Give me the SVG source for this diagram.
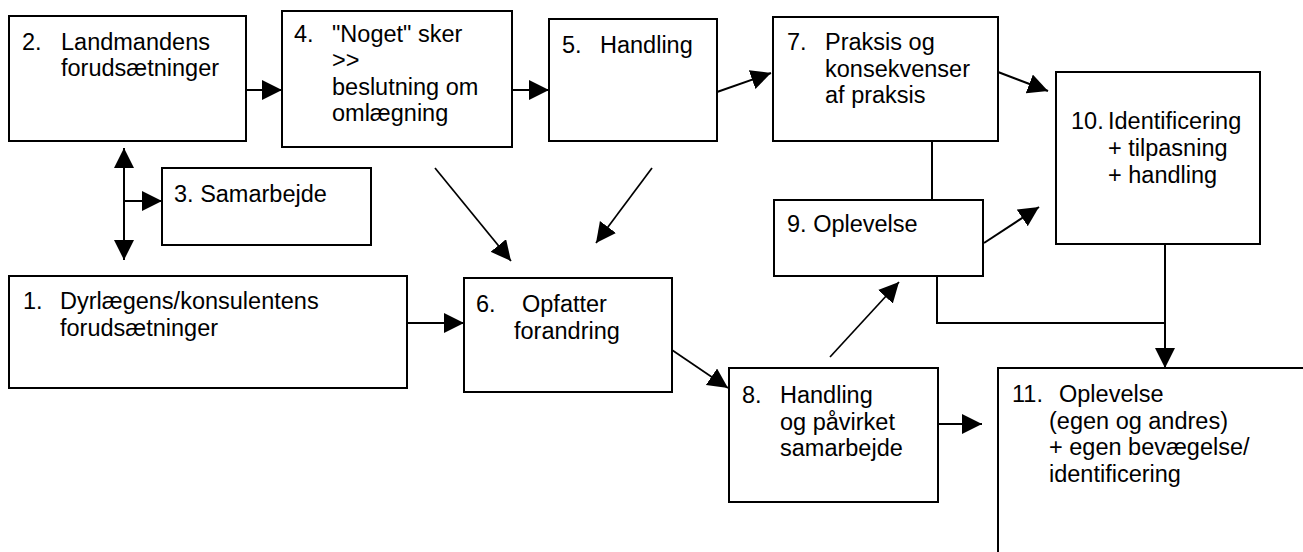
<svg xmlns="http://www.w3.org/2000/svg" width="1303" height="552" viewBox="0 0 1303 552">
<style>
.box{fill:#fff;stroke:#000;stroke-width:2}
.t{font-family:"Liberation Sans",Arial,sans-serif;font-size:23.5px;fill:#000}
.c{fill:none;stroke:#000;stroke-width:2}
.d{fill:none;stroke:#000;stroke-width:1.7}
</style>
<defs>
<marker id="ah" markerUnits="userSpaceOnUse" markerWidth="21" markerHeight="21" refX="20" refY="10" orient="auto">
<path d="M0,0 L20,10 L0,20 Z" fill="#000"/>
</marker>
<marker id="ahs" markerUnits="userSpaceOnUse" markerWidth="21" markerHeight="21" refX="20" refY="10" orient="auto-start-reverse">
<path d="M0,0 L20,10 L0,20 Z" fill="#000"/>
</marker>
</defs>
<rect width="1303" height="552" fill="#fff"/>
<g id="connectors">
<line class="c" x1="246" y1="90" x2="282" y2="90" marker-end="url(#ah)"/>
<line class="c" x1="512" y1="90" x2="549" y2="90" marker-end="url(#ah)"/>
<line class="c" x1="717" y1="92" x2="771" y2="73" marker-end="url(#ah)"/>
<line class="c" x1="998" y1="72" x2="1048" y2="91" marker-end="url(#ah)"/>
<line class="c" x1="124" y1="148" x2="124" y2="260" marker-start="url(#ahs)" marker-end="url(#ah)"/>
<line class="c" x1="124" y1="201" x2="162" y2="201" marker-end="url(#ah)"/>
<line class="c" x1="407" y1="323" x2="464" y2="323" marker-end="url(#ah)"/>
<line class="d" x1="435" y1="168" x2="511" y2="261" marker-end="url(#ah)"/>
<line class="d" x1="652" y1="168" x2="596" y2="243" marker-end="url(#ah)"/>
<line class="c" x1="932" y1="141" x2="932" y2="200"/>
<line class="c" x1="984" y1="243" x2="1039" y2="207" marker-end="url(#ah)"/>
<polyline class="c" points="937,276 937,323 1165,323"/>
<line class="c" x1="1165" y1="244" x2="1165" y2="368" marker-end="url(#ah)"/>
<line class="d" x1="672" y1="350" x2="728" y2="388" marker-end="url(#ah)"/>
<line class="d" x1="830" y1="357" x2="899" y2="282" marker-end="url(#ah)"/>
<line class="c" x1="938" y1="424" x2="982" y2="424" marker-end="url(#ah)"/>
</g>
<g id="n2">
<rect class="box" x="9" y="16" width="237" height="125"/>
<text class="t"><tspan x="22" y="50">2.</tspan><tspan x="61" y="50">Landmandens</tspan><tspan x="61" y="76">forudsætninger</tspan></text>
</g>
<g id="n4">
<rect class="box" x="282" y="11" width="230" height="136"/>
<text class="t"><tspan x="294" y="42">4.</tspan><tspan x="332" y="42">"Noget" sker</tspan><tspan x="332" y="68">&gt;&gt;</tspan><tspan x="332" y="95">beslutning om</tspan><tspan x="332" y="121">omlægning</tspan></text>
</g>
<g id="n5">
<rect class="box" x="549" y="19" width="168" height="122"/>
<text class="t"><tspan x="562" y="53">5.</tspan><tspan x="600" y="53">Handling</tspan></text>
</g>
<g id="n7">
<rect class="box" x="773" y="17" width="225" height="124"/>
<text class="t"><tspan x="787" y="50">7.</tspan><tspan x="825" y="50">Praksis og</tspan><tspan x="825" y="76.5">konsekvenser</tspan><tspan x="825" y="103">af praksis</tspan></text>
</g>
<g id="n10">
<rect class="box" x="1056" y="72" width="204" height="172"/>
<text class="t"><tspan x="1071" y="129">10.</tspan><tspan x="1108" y="129">Identificering</tspan><tspan x="1108" y="156">+ tilpasning</tspan><tspan x="1108" y="183">+ handling</tspan></text>
</g>
<g id="n3">
<rect class="box" x="162" y="168" width="209" height="77"/>
<text class="t"><tspan x="174" y="202">3. Samarbejde</tspan></text>
</g>
<g id="n9">
<rect class="box" x="774" y="200" width="209" height="76"/>
<text class="t"><tspan x="787" y="232">9. Oplevelse</tspan></text>
</g>
<g id="n1">
<rect class="box" x="9" y="276" width="398" height="112"/>
<text class="t"><tspan x="23" y="309">1.</tspan><tspan x="60" y="309">Dyrlægens/konsulentens</tspan><tspan x="60" y="336">forudsætninger</tspan></text>
</g>
<g id="n6">
<rect class="box" x="464" y="278" width="208" height="114"/>
<text class="t"><tspan x="476" y="312">6.</tspan><tspan x="522" y="312">Opfatter</tspan><tspan x="514" y="339">forandring</tspan></text>
</g>
<g id="n8">
<rect class="box" x="729" y="368" width="209" height="134"/>
<text class="t"><tspan x="742" y="403">8.</tspan><tspan x="780" y="403">Handling</tspan><tspan x="780" y="429.5">og påvirket</tspan><tspan x="780" y="456">samarbejde</tspan></text>
</g>
<g id="n11">
<rect class="box" x="998" y="368" width="320" height="200"/>
<text class="t"><tspan x="1012" y="402">11.</tspan><tspan x="1059" y="402">Oplevelse</tspan><tspan x="1049" y="428.5">(egen og andres)</tspan><tspan x="1049" y="455">+ egen bevægelse/</tspan><tspan x="1049" y="482">identificering</tspan></text>
</g>
</svg>
